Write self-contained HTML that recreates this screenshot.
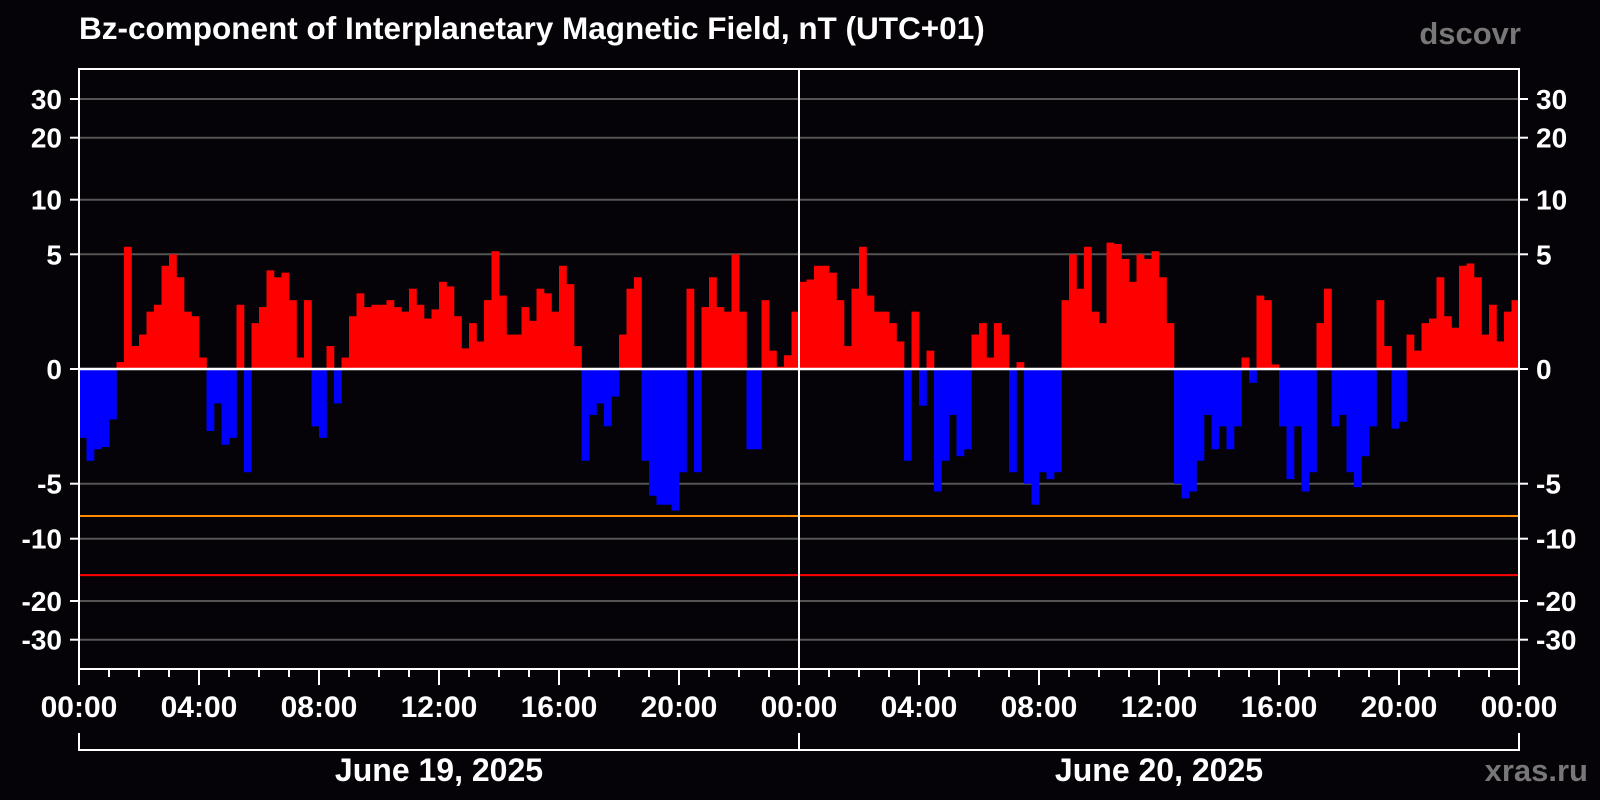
<!DOCTYPE html>
<html><head><meta charset="utf-8"><style>
html,body{margin:0;padding:0;background:#050307;}
svg{display:block;font-family:"Liberation Sans",Arial,sans-serif;font-weight:bold;}
</style></head><body>
<svg id="chart" width="1600" height="800" viewBox="0 0 1600 800" xmlns="http://www.w3.org/2000/svg">
<rect x="0" y="0" width="1600" height="800" fill="#050307"/>
<text x="79" y="39" fill="#fff" font-size="31.5">Bz-component of Interplanetary Magnetic Field, nT (UTC+01)</text>
<text x="1521" y="44" fill="#777" font-size="31" text-anchor="end">dscovr</text>
<text x="1588" y="781" fill="#777" font-size="31" text-anchor="end">xras.ru</text>
<g id="grid"></g>
<g id="bars"></g>
<g id="axes"></g>
</svg>
<script>
const yTicks = [30, 20, 10, 5, 0, -5, -10, -20, -30];
const alertLevels = [-7.5, -15];
const dayLabels = ["June 19, 2025", "June 20, 2025"];
const hourLabels = ["00:00","04:00","08:00","12:00","16:00","20:00","00:00","04:00","08:00","12:00","16:00","20:00","00:00"];
const binMinutes = 15;
const bz = [
-3,-4,-3.5,-3.4,-2.2,0.3,5.5,1.0,1.5,2.5,2.8,4.5,5.0,4,2.5,2.3,0.5,-2.7,-1.5,-3.3,-3,2.8,-4.5,2.0,2.7,4.3,4,4.2,3.0,0.5,3,-2.5,
-3,1.0,-1.5,0.5,2.3,3.3,2.7,2.8,2.8,3,2.7,2.5,3.5,2.8,2.2,2.6,
3.8,3.6,2.3,0.9,2.0,1.2,3,5.2,3.2,1.5,1.5,2.7,2.1,3.5,3.3,2.5,4.5,3.7,1.0,-4,-2.0,-1.5,-2.5,-1.2,1.5,3.5,4.0,-4,-5.8,-6.5,-6.5,-7,
-4.5,3.5,-4.5,2.7,4,2.7,2.5,5,2.5,-3.5,-3.5,3,0.8,0.1,0.6,2.5,
3.8,3.9,4.5,4.5,4.2,3,1.0,3.5,5.5,3.2,2.5,2.5,2.0,1.2,-4,2.5,-1.6,0.8,-5.5,-4,-2,-3.8,-3.5,1.5,2.0,0.5,2.0,1.5,-4.5,0.3,-5,-6.5,
-4.5,-4.8,-4.5,3,5,3.5,5.5,2.5,2,5.8,5.7,4.8,3.8,5.0,4.8,5.2,
4.0,2.0,-5,-6,-5.5,-4,-2,-3.5,-2.5,-3.5,-2.5,0.5,-0.6,3.2,3,0.2,-2.5,-4.8,-2.5,-5.5,-4.5,2,3.5,-2.5,-2.0,-4.5,-5.2,-3.8,-2.5,3,1.0,-2.6,
-2.3,1.5,0.8,2.0,2.2,4.0,2.3,1.8,4.5,4.6,4.0,1.5,2.8,1.2,2.5,3.0
];

const NS="http://www.w3.org/2000/svg";
const L=79,R=1519,T=69,B=669,HOURS=48;
const knotV=[-30,-20,-10,-5,0,5,10,20,30];
const knotY=[639.7,601,538.7,484,369,254.3,199.7,137.7,99];
function yScale(v){
  if(Math.abs(v)<=5) return 369-(v/5)*(369-254.3);
  for(let i=0;i<knotV.length-1;i++){
    const a=knotV[i],b=knotV[i+1];
    if(v>=a&&v<=b){
      const t=(Math.log(Math.abs(v))-Math.log(Math.abs(a)))/(Math.log(Math.abs(b))-Math.log(Math.abs(a)));
      return knotY[i]+t*(knotY[i+1]-knotY[i]);
    }
  }
  return v>0?T:B;
}
function xScale(h){return L+(h/HOURS)*(R-L);}
function mk(tag,attrs,parent){const e=document.createElementNS(NS,tag);for(const k in attrs)e.setAttribute(k,attrs[k]);parent.appendChild(e);return e;}
const grid=document.getElementById('grid'),bars=document.getElementById('bars'),axes=document.getElementById('axes');

yTicks.forEach(v=>{
  if(v===0)return;
  const y=yScale(v);
  const g=mk('line',{x1:L,x2:R,y1:y,y2:y,stroke:'#555','stroke-width':2},grid);
  
  
});

const bw=(R-L)/(HOURS*60/binMinutes);
bz.forEach((v,i)=>{
  const x=xScale(i*binMinutes/60);
  const y0=yScale(0),y1=yScale(v);
  const r=mk('rect',{x:x,width:bw+0.3,y:Math.min(y0,y1),height:Math.abs(y1-y0),fill:v>=0?'#ff0000':'#0000ff'},bars);
  
  
});

alertLevels.forEach((v,i)=>{
  const y=yScale(v);
  const l=mk('line',{x1:L,x2:R,y1:y,y2:y,stroke:i===0?'#ff8c00':'#ff0000','stroke-width':2},axes);
  
  
});
const z=mk('line',{x1:L,x2:R,y1:yScale(0),y2:yScale(0),stroke:'#fff','stroke-width':2.5},axes);


const dl=mk('line',{x1:xScale(24),x2:xScale(24),y1:T,y2:B,stroke:'#fff','stroke-width':2},axes);


const fr=mk('rect',{x:L,y:T,width:R-L,height:B-T,fill:'none',stroke:'#fff','stroke-width':2},axes);



yTicks.forEach(v=>{
  const y=yScale(v);
  mk('line',{x1:L-9,x2:L,y1:y,y2:y,stroke:'#fff','stroke-width':2},axes);
  mk('line',{x1:R,x2:R+9,y1:y,y2:y,stroke:'#fff','stroke-width':2},axes);
  const t1=mk('text',{x:62,y:y+10,fill:'#fff','font-size':28,'text-anchor':'end'},axes);
  t1.textContent=v;
  
  
  const t2=mk('text',{x:1536,y:y+10,fill:'#fff','font-size':28,'text-anchor':'start'},axes);
  t2.textContent=v;
  
  
});

for(let h=0;h<=HOURS;h++){
  const x=xScale(h);
  const major=h%4===0;
  mk('line',{x1:x,x2:x,y1:B,y2:major?685:677,stroke:'#fff','stroke-width':2},axes);
}
hourLabels.forEach((s,i)=>{
  const t=mk('text',{x:xScale(i*4),y:717,fill:'#fff','font-size':30,'text-anchor':'middle'},axes);
  t.textContent=s;
  
  
});
const br=mk('path',{d:`M${L} 733 V750 H${R} V733 M${xScale(24)} 733 V750`,fill:'none',stroke:'#fff','stroke-width':2},axes);


dayLabels.forEach((s,i)=>{
  const t=mk('text',{x:xScale(i*24+12),y:781,fill:'#fff','font-size':32,'text-anchor':'middle'},axes);
  t.textContent=s;
  
  
});
</script>
</body></html>
